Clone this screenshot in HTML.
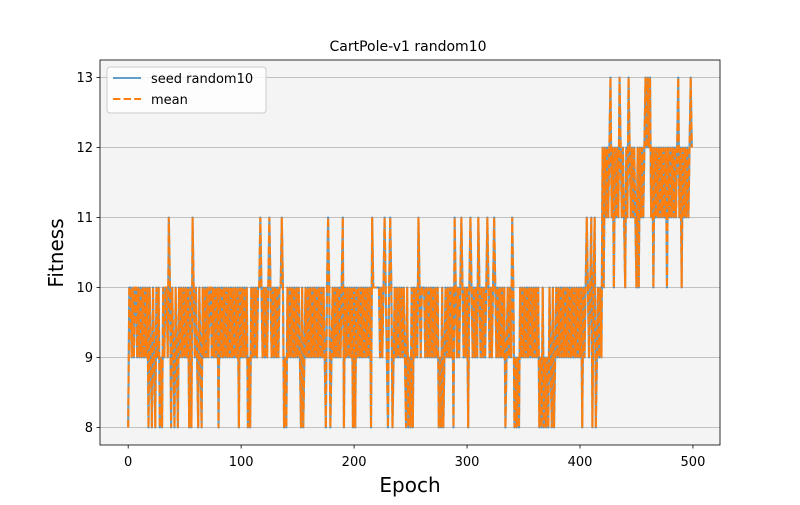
<!DOCTYPE html>
<html><head><meta charset="utf-8"><style>
body{margin:0;background:#fff}
svg text{font-family:"DejaVu Sans","Liberation Sans",sans-serif;fill:#000}
</style></head><body>
<svg id="chart" width="800" height="500" viewBox="0 0 800 500">
<rect x="0" y="0" width="800" height="500" fill="#fff"/>
<rect x="100" y="60" width="620" height="385" fill="#f4f4f4"/>
<g id="grid"></g><g id="ticks"></g><g id="series"></g>
<rect x="100" y="60" width="620" height="385" fill="none" stroke="#000" stroke-width="0.8"/>
<text x="408" y="51" text-anchor="middle" font-size="14">CartPole-v1 random10</text>
<text x="410" y="492" text-anchor="middle" font-size="20">Epoch</text>
<text x="0" y="0" transform="translate(63,253) rotate(-90)" text-anchor="middle" font-size="20">Fitness</text>
<g>
<rect x="107" y="67" width="159" height="46" rx="3" fill="#fff" fill-opacity="0.8" stroke="#ccc"/>
<line x1="113" y1="78" x2="141" y2="78" stroke="#1f77b4" stroke-opacity="0.7" stroke-width="2"/>
<text x="151" y="83" font-size="13">seed random10</text>
<line x1="113" y1="99" x2="141" y2="99" stroke="#ff7f0e" stroke-width="2" stroke-dasharray="7.4,3.2"/>
<text x="151" y="104" font-size="13">mean</text>
</g>
</svg>
<script>
const fitness = [
8,10,10,9,10,9,10,10,9,10,9,10,9,10,9,10,9,10,8,10,
9,8,10,9,8,10,9,10,8,9,8,10,9,10,10,9,11,10,8,10,
9,8,10,9,8,10,9,10,9,10,9,10,9,10,8,10,8,11,10,9,
10,9,8,10,9,8,10,9,10,9,10,9,10,10,9,10,9,10,9,10,
8,10,9,10,9,10,9,10,9,10,9,10,9,10,9,10,9,10,8,10,
9,10,9,10,9,10,8,9,8,10,9,10,9,10,9,10,10,11,10,9,
10,9,10,9,10,11,10,9,10,9,10,9,10,9,10,10,11,10,8,9,
8,10,9,10,9,10,9,10,9,10,9,10,9,8,10,8,9,10,9,10,
9,10,9,10,9,10,9,10,9,10,9,10,9,10,9,8,10,11,10,8,
9,10,9,10,9,10,9,10,9,10,11,8,10,9,10,9,10,9,10,8,
10,8,10,9,10,9,10,9,10,9,10,9,10,9,10,8,11,10,10,10,
10,10,10,9,10,9,10,11,10,9,8,10,11,10,8,9,10,9,10,9,
10,9,10,9,10,9,8,10,8,9,8,10,8,10,9,10,9,11,10,9,
10,10,10,9,10,9,10,9,10,9,10,9,10,9,10,8,9,8,10,8,
9,10,9,10,9,10,9,10,8,11,10,9,10,9,10,11,10,9,10,9,
10,8,10,11,10,9,10,9,10,9,11,10,9,10,9,10,9,10,11,10,
9,10,9,10,11,10,9,10,9,10,9,10,9,10,8,9,10,9,10,9,
11,10,8,9,8,9,8,10,9,10,9,10,9,10,9,10,9,10,9,10,
9,10,9,10,8,9,8,10,8,9,8,9,8,10,9,8,10,8,9,10,
9,10,9,10,9,10,9,10,9,10,9,10,9,10,9,10,9,10,9,10,
9,10,8,10,9,10,11,10,9,10,11,8,10,11,8,9,10,9,10,9,
12,10,12,11,12,11,12,13,11,12,10,12,11,12,11,13,12,11,12,11,
10,12,11,13,12,11,12,11,12,11,10,12,10,12,11,12,11,12,13,12,
13,12,13,11,12,10,12,11,12,11,12,11,12,11,12,11,12,10,12,11,
12,11,12,11,12,11,12,13,11,12,10,12,11,12,11,12,11,12,13,12
];
const meanFitness = fitness.slice();
const xTicks = [0,100,200,300,400,500];
const yTicks = [8,9,10,11,12,13];
const NS='http://www.w3.org/2000/svg';
const xMin=-24.95,xMax=523.95,yMin=7.75,yMax=13.25;
const X=e=>100+(e-xMin)/(xMax-xMin)*620;
const Y=v=>445-(v-yMin)/(yMax-yMin)*385;
const grid=document.getElementById('grid'),ticks=document.getElementById('ticks'),series=document.getElementById('series');
function mk(tag,attrs,parent){const el=document.createElementNS(NS,tag);for(const k in attrs)el.setAttribute(k,attrs[k]);parent.appendChild(el);return el;}
yTicks.forEach(v=>{
  const g=mk('line',{x1:100,x2:720,y1:Y(v),y2:Y(v),stroke:'#b0b0b0','stroke-width':0.8},grid);
  
  
  const t=mk('line',{x1:96.5,x2:100,y1:Y(v),y2:Y(v),stroke:'#000','stroke-width':0.8},ticks);
  
  
  const l=mk('text',{x:93,y:Y(v)+4.5,'text-anchor':'end','font-size':13},ticks);
  l.textContent=v;
  
  
});
xTicks.forEach(v=>{
  const t=mk('line',{x1:X(v),x2:X(v),y1:445,y2:448.5,stroke:'#000','stroke-width':0.8},ticks);
  
  
  const l=mk('text',{x:X(v),y:466,'text-anchor':'middle','font-size':13},ticks);
  l.textContent=v;
  
  
});
const pts=a=>a.map((v,i)=>X(i).toFixed(2)+','+Y(v).toFixed(2)).join(' ');
const s=mk('polyline',{points:pts(fitness),fill:'none',stroke:'#1f77b4','stroke-opacity':0.7,'stroke-width':2.1,'stroke-linejoin':'round'},series);


const m=mk('polyline',{points:pts(meanFitness),fill:'none',stroke:'#ff7f0e','stroke-width':2.1,'stroke-dasharray':'7.7,3.3'},series);


</script>
</body></html>
